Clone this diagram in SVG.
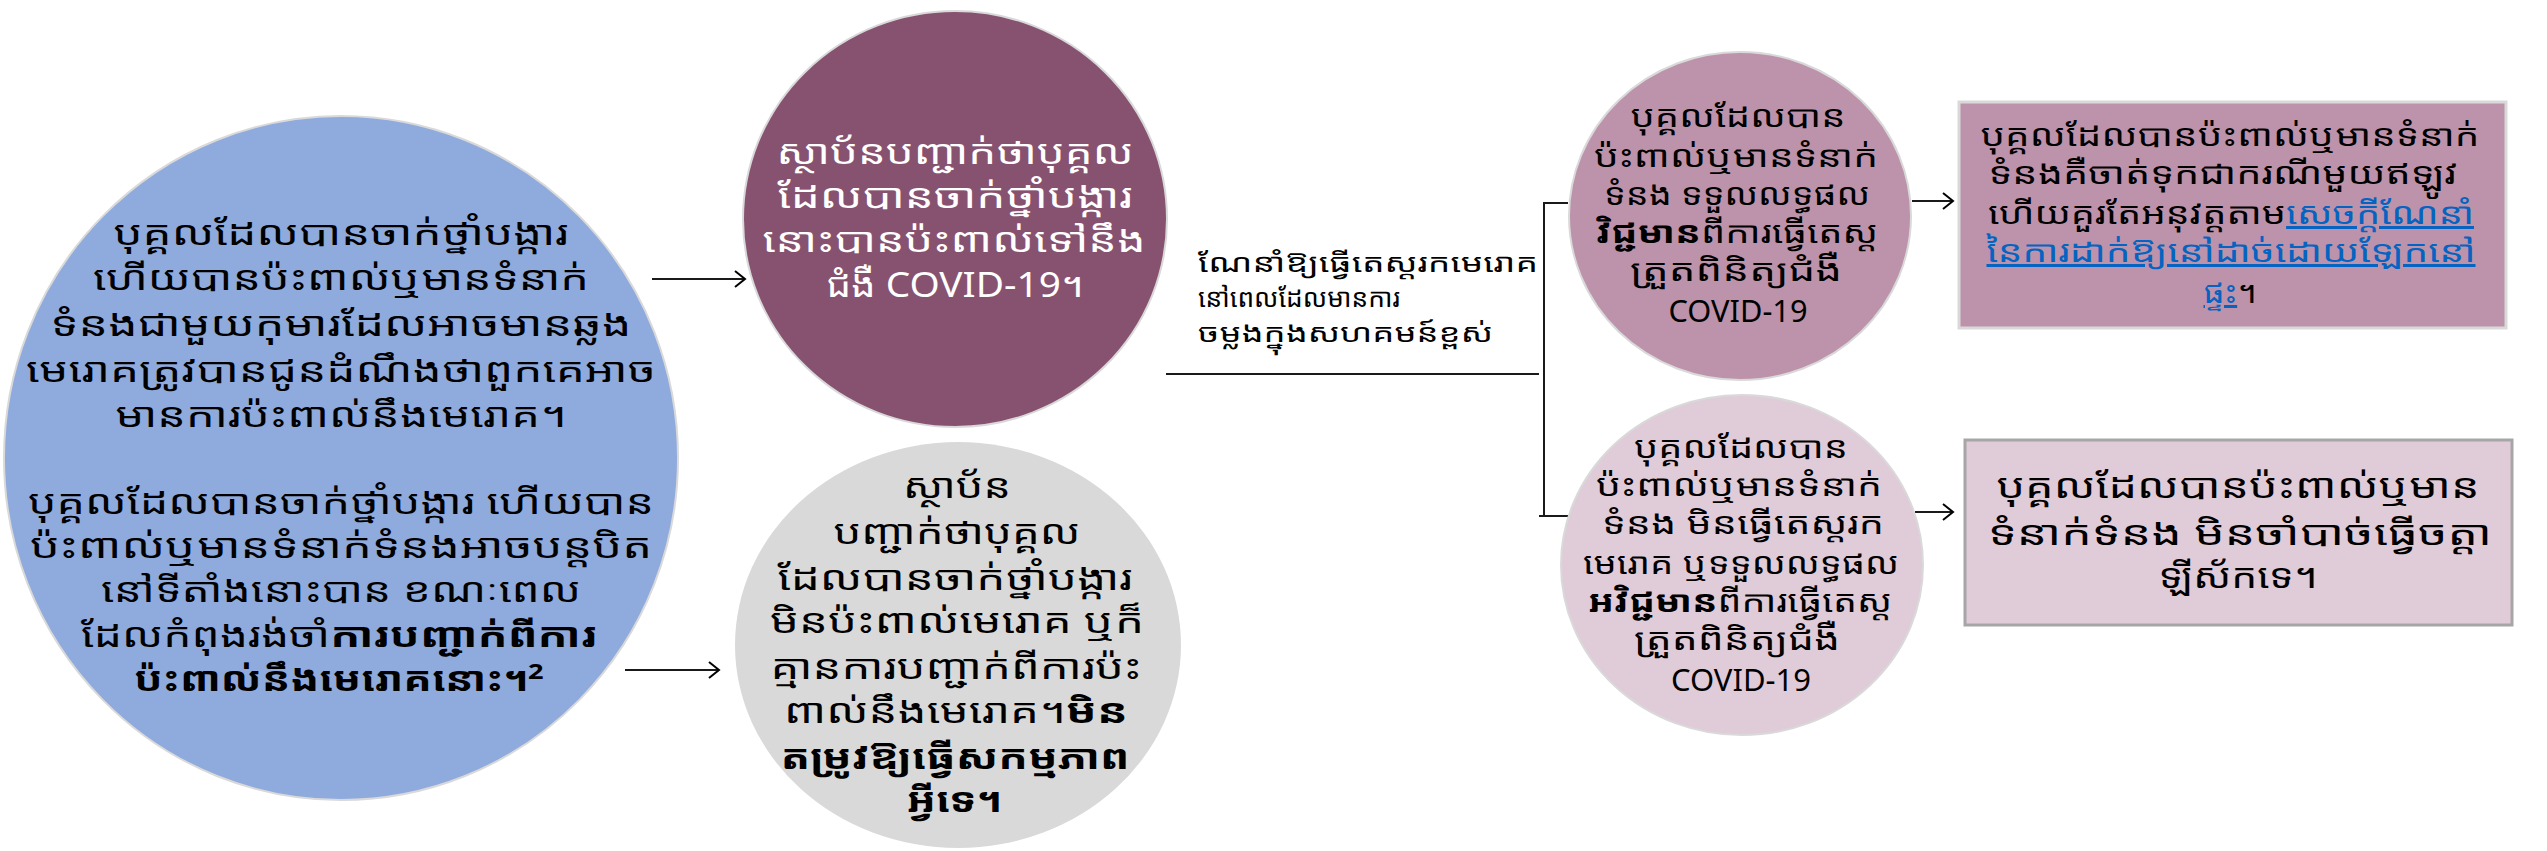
<svg xmlns="http://www.w3.org/2000/svg" width="2547" height="851" viewBox="0 0 2547 851">
<defs>
<marker id="arr" markerWidth="14" markerHeight="18" refX="12" refY="9" orient="auto" markerUnits="userSpaceOnUse">
<path d="M2,1 L12,9 L2,17" fill="none" stroke="#000" stroke-width="2"/>
</marker>
<style>
text{font-family:"Noto Sans Khmer","Open Sans","Noto Sans",sans-serif;text-anchor:middle;fill:#000}
.w{fill:#fff}
.b{font-weight:bold}
.lnk{fill:#0563c1;text-decoration:underline}
.conn{stroke:#1a1a1a;stroke-width:2;fill:none}
.s34{font-size:34px}
.s30{font-size:30px}
.s26{font-size:26px}
.l{text-anchor:start}
</style>
</defs>
<rect width="2547" height="851" fill="#fff"/>

<g id="connectors">
<line class="conn" x1="652" y1="279" x2="745" y2="279" marker-end="url(#arr)"/>
<line class="conn" x1="625" y1="670" x2="719" y2="670" marker-end="url(#arr)"/>
<line class="conn" x1="1166" y1="374" x2="1539" y2="374"/>
<path class="conn" d="M1568,203 H1544 V516 M1539,516 H1571"/>
<line class="conn" x1="1912" y1="201" x2="1953" y2="201" marker-end="url(#arr)"/>
<line class="conn" x1="1915" y1="512" x2="1953" y2="512" marker-end="url(#arr)"/>
</g>

<g id="node-blue">
<ellipse cx="341" cy="458" rx="337" ry="342" fill="#8faadc" stroke="#d9d9d9" stroke-width="2"/>
<g class="s34">
<text x="341" y="245" textLength="455" lengthAdjust="spacingAndGlyphs">បុគ្គលដែលបានចាក់ថ្នាំបង្ការ</text>
<text x="341" y="290" textLength="496" lengthAdjust="spacingAndGlyphs">ហើយបានប៉ះពាល់ឬមានទំនាក់</text>
<text x="341" y="336" textLength="581" lengthAdjust="spacingAndGlyphs">ទំនងជាមួយកុមារដែលអាចមានឆ្លង</text>
<text x="341" y="382" textLength="630" lengthAdjust="spacingAndGlyphs">មេរោគត្រូវបានជូនដំណឹងថាពួកគេអាច</text>
<text x="341" y="427" textLength="451" lengthAdjust="spacingAndGlyphs">មានការប៉ះពាល់នឹងមេរោគ។</text>
<text x="341" y="514" textLength="626" lengthAdjust="spacingAndGlyphs">បុគ្គលដែលបានចាក់ថ្នាំបង្ការ ហើយបាន</text>
<text x="341" y="558" textLength="622" lengthAdjust="spacingAndGlyphs">ប៉ះពាល់ឬមានទំនាក់ទំនងអាចបន្តបិត</text>
<text x="341" y="602" textLength="480" lengthAdjust="spacingAndGlyphs">នៅទីតាំងនោះបាន ខណៈពេល</text>
<text x="339" y="647" textLength="516" lengthAdjust="spacingAndGlyphs">ដែលកំពុងរង់ចាំ<tspan class="b">ការបញ្ជាក់ពីការ</tspan></text>
<text x="339" y="691" textLength="410" lengthAdjust="spacingAndGlyphs" class="b">ប៉ះពាល់នឹងមេរោគនោះ។<tspan font-size="22" dy="-12">2</tspan></text>
</g>
</g>

<g id="node-confirmed">
<ellipse cx="955" cy="219" rx="212" ry="208" fill="#875270" stroke="#d9d9d9" stroke-width="2"/>
<g class="s34">
<text class="w" x="955" y="164" textLength="357" lengthAdjust="spacingAndGlyphs">ស្ថាប័នបញ្ជាក់ថាបុគ្គល</text>
<text class="w" x="955" y="208" textLength="355" lengthAdjust="spacingAndGlyphs">ដែលបានចាក់ថ្នាំបង្ការ</text>
<text class="w" x="954" y="252" textLength="383" lengthAdjust="spacingAndGlyphs">នោះបានប៉ះពាល់ទៅនឹង</text>
<text class="w" x="955" y="297" textLength="257" lengthAdjust="spacingAndGlyphs">ជំងឺ COVID-19។</text>
</g>
</g>

<g id="node-notconfirmed">
<ellipse cx="958" cy="645" rx="223" ry="203" fill="#d9d9d9"/>
<g class="s34">
<text x="957" y="498" textLength="108" lengthAdjust="spacingAndGlyphs">ស្ថាប័ន</text>
<text x="957" y="544" textLength="247" lengthAdjust="spacingAndGlyphs">បញ្ជាក់ថាបុគ្គល</text>
<text x="955" y="590" textLength="355" lengthAdjust="spacingAndGlyphs">ដែលបានចាក់ថ្នាំបង្ការ</text>
<text x="957" y="633" textLength="374" lengthAdjust="spacingAndGlyphs">មិនប៉ះពាល់មេរោគ ឬក៏</text>
<text x="956" y="679" textLength="371" lengthAdjust="spacingAndGlyphs">គ្មានការបញ្ជាក់ពីការប៉ះ</text>
<text x="956" y="723" textLength="344" lengthAdjust="spacingAndGlyphs">ពាល់នឹងមេរោគ។<tspan class="b">មិន</tspan></text>
<text x="955" y="769" textLength="349" lengthAdjust="spacingAndGlyphs" class="b">តម្រូវឱ្យធ្វើសកម្មភាព</text>
<text x="954" y="812" textLength="95" lengthAdjust="spacingAndGlyphs" class="b">អ្វីទេ។</text>
</g>
</g>

<g id="label-test">
<g class="s26">
<text class="l" x="1198" y="272" textLength="340" lengthAdjust="spacingAndGlyphs">ណែនាំឱ្យធ្វើតេស្តរកមេរោគ</text>
<text class="l" x="1198" y="307" textLength="202" lengthAdjust="spacingAndGlyphs">នៅពេលដែលមានការ</text>
<text class="l" x="1198" y="342" textLength="295" lengthAdjust="spacingAndGlyphs">ចម្លងក្នុងសហគមន៍ខ្ពស់</text>
</g>
</g>

<g id="node-positive">
<ellipse cx="1740" cy="216" rx="171" ry="164" fill="#bc93aa" stroke="#d9d9d9" stroke-width="2"/>
<g class="s30">
<text x="1738" y="127" textLength="215" lengthAdjust="spacingAndGlyphs">បុគ្គលដែលបាន</text>
<text x="1736" y="167" textLength="284" lengthAdjust="spacingAndGlyphs">ប៉ះពាល់ឬមានទំនាក់</text>
<text x="1737" y="205" textLength="266" lengthAdjust="spacingAndGlyphs">ទំនង ទទួលលទ្ធផល</text>
<text x="1737" y="243" textLength="282" lengthAdjust="spacingAndGlyphs"><tspan class="b">វិជ្ជមាន</tspan>ពីការធ្វើតេស្ត</text>
<text x="1736" y="281" textLength="212" lengthAdjust="spacingAndGlyphs">ត្រួតពិនិត្យជំងឺ</text>
<text x="1738" y="322" textLength="139" lengthAdjust="spacingAndGlyphs">COVID-19</text>
</g>
</g>

<g id="node-negative">
<ellipse cx="1742" cy="565" rx="181" ry="170" fill="#e0cbd8" stroke="#d9d9d9" stroke-width="2"/>
<g class="s30">
<text x="1741" y="458" textLength="214" lengthAdjust="spacingAndGlyphs">បុគ្គលដែលបាន</text>
<text x="1739" y="496" textLength="286" lengthAdjust="spacingAndGlyphs">ប៉ះពាល់ឬមានទំនាក់</text>
<text x="1743" y="534" textLength="282" lengthAdjust="spacingAndGlyphs">ទំនង មិនធ្វើតេស្តរក</text>
<text x="1741" y="574" textLength="316" lengthAdjust="spacingAndGlyphs">មេរោគ ឬទទួលលទ្ធផល</text>
<text x="1740" y="612" textLength="304" lengthAdjust="spacingAndGlyphs"><tspan class="b">អវិជ្ជមាន</tspan>ពីការធ្វើតេស្ត</text>
<text x="1737" y="650" textLength="206" lengthAdjust="spacingAndGlyphs">ត្រួតពិនិត្យជំងឺ</text>
<text x="1741" y="691" textLength="140" lengthAdjust="spacingAndGlyphs">COVID-19</text>
</g>
</g>

<g id="box-quarantine">
<rect x="1959" y="102" width="547" height="226" fill="#bc93aa" stroke="#d9d9d9" stroke-width="3"/>
<g class="s30">
<text x="2230" y="146" textLength="499" lengthAdjust="spacingAndGlyphs">បុគ្គលដែលបានប៉ះពាល់ឬមានទំនាក់</text>
<text x="2223" y="184" textLength="469" lengthAdjust="spacingAndGlyphs">ទំនងគឺចាត់ទុកជាករណីមួយឥឡូវ</text>
<text x="2231" y="224" textLength="486" lengthAdjust="spacingAndGlyphs">ហើយគួរតែអនុវត្តតាម<tspan class="lnk">សេចក្តីណែនាំ</tspan></text>
<text x="2231" y="262" textLength="489" lengthAdjust="spacingAndGlyphs" class="lnk">នៃការដាក់ឱ្យនៅដាច់ដោយឡែកនៅ</text>
<text x="2230" y="303" textLength="53" lengthAdjust="spacingAndGlyphs"><tspan class="lnk">ផ្ទះ</tspan>។</text>
</g>
</g>

<g id="box-noquarantine">
<rect x="1965" y="440" width="547" height="185" fill="#e0cbd8" stroke="#a6a6a6" stroke-width="3"/>
<g class="s34">
<text x="2238" y="498" textLength="483" lengthAdjust="spacingAndGlyphs">បុគ្គលដែលបានប៉ះពាល់ឬមាន</text>
<text x="2240" y="545" textLength="504" lengthAdjust="spacingAndGlyphs">ទំនាក់ទំនង មិនចាំបាច់ធ្វើចត្តា</text>
<text x="2238" y="588" textLength="159" lengthAdjust="spacingAndGlyphs">ឡីស័កទេ។</text>
</g>
</g>
</svg>
